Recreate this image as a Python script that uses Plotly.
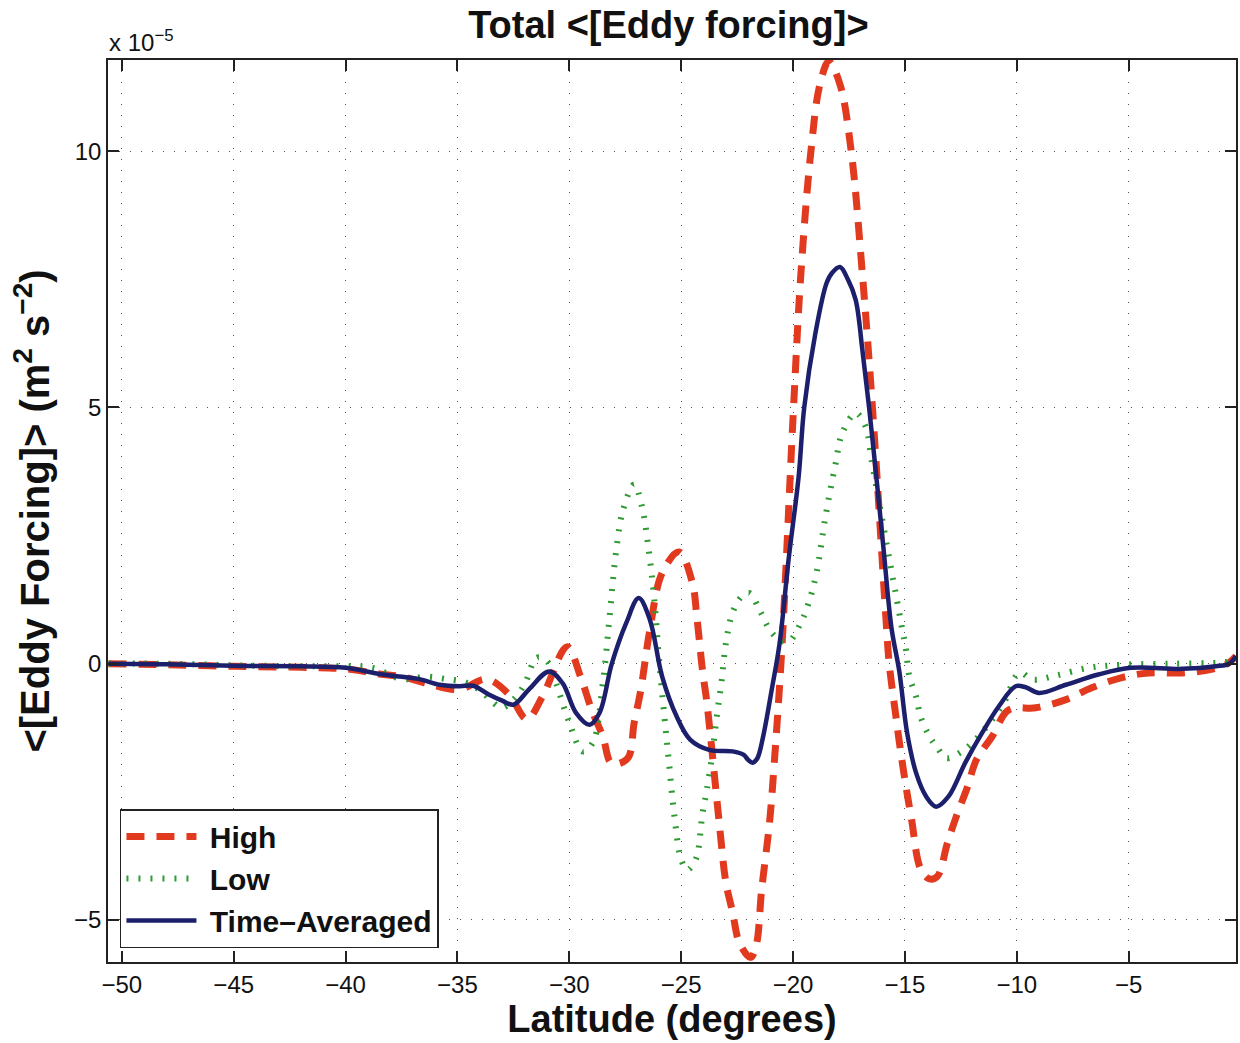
import plotly.graph_objects as go

# Values in units of 1e-5 m^2 s^-2
lat_high = [-50.6, -48, -45, -42, -40, -38.5, -37.5, -36.25, -34.9, -33.7, -32.7, -31.9, -31.2, -30.1, -29.5,
            -29.0, -28.5, -28.1, -27.4, -27.1, -26.8, -26.4, -25.85, -25.1, -24.5, -24.3, -24.05, -23.85, -23.6,
            -23.3, -23.0, -22.7, -22.4, -21.9, -21.65, -21.4, -21.05, -20.85, -20.5, -20.0, -19.65, -19.2, -18.8,
            -18.4, -17.9, -17.4, -16.9, -16.45, -15.85, -15.7, -15.4, -15.2, -14.95, -14.7, -14.3, -13.9, -13.55,
            -13.1, -12.7, -12.2, -11.8, -11.1, -10.35, -9.15, -7.8, -6.65, -5.3, -4.1, -2.6, -1.4, -0.65, -0.2]
high = [0.0, -0.02, -0.05, -0.07, -0.1, -0.2, -0.25, -0.4, -0.5, -0.3, -0.6, -1.08, -0.64, 0.33, -0.25,
        -0.9, -1.42, -1.95, -1.85, -1.15, -0.5, 0.66, 1.77, 2.18, 1.58, 0.92, -0.12, -0.76, -1.8,
        -3.1, -4.27, -4.85, -5.44, -5.73, -5.5, -4.4, -3.1, -2.0, 0.3, 4.8, 7.6, 10.0, 11.3,
        11.75, 11.3, 10.0, 7.6, 5.0, 0.9, 0.0, -1.03, -1.68, -2.4, -3.04, -4.0, -4.2, -4.15,
        -3.5, -2.98, -2.4, -1.87, -1.42, -0.9, -0.86, -0.7, -0.47, -0.27, -0.18, -0.18, -0.12, -0.02, 0.15]

lat_low = [-50.6, -48, -45, -42, -40, -38.8, -37.45, -36.4, -35.5, -34.6, -33.9, -33.4, -33.0, -32.5, -32.0,
           -31.45, -31.0, -30.6, -30.0, -29.4, -28.95, -28.5, -28.2, -27.9, -27.6, -27.1, -26.75, -26.45, -26.2,
           -26.0, -25.75, -25.55, -25.3, -25.0, -24.73, -24.35, -24.05, -23.85, -23.62, -23.4, -23.2, -23.0,
           -22.7, -22.3, -21.95, -21.5, -21.0, -20.6, -20.2, -19.65, -19.3, -18.95, -18.55, -18.1, -17.8, -17.2,
           -16.75, -16.5, -16.15, -15.85, -15.55, -15.15, -14.95, -14.8, -14.5, -14.3, -13.9, -13.55, -13.15,
           -12.45, -11.85, -11.1, -10.5, -10.05, -9.8, -9.3, -8.25, -6.8, -5.3, -3.0, -1.0, -0.5, -0.2]
low = [0.0, 0.0, -0.03, -0.05, -0.05, -0.08, -0.3, -0.25, -0.3, -0.37, -0.55, -0.76, -0.86, -0.7, -0.4,
       0.12, 0.05, -0.37, -1.15, -1.71, -1.54, -0.37, 0.92, 2.22, 3.0, 3.5, 3.06, 2.22, 1.25,
       0.14, -1.03, -1.9, -2.98, -3.82, -4.02, -3.82, -2.94, -2.45, -1.8, -1.0, -0.37, 0.4,
       1.0, 1.31, 1.38, 1.05, 0.63, 0.47, 0.43, 0.8, 1.19, 1.77, 2.87, 3.9, 4.5, 4.89,
       4.62, 4.0, 3.14, 2.42, 1.7, 0.75, 0.27, -0.25, -0.64, -1.03, -1.42, -1.64, -1.84,
       -1.71, -1.48, -1.09, -0.7, -0.25, -0.18, -0.31, -0.23, -0.08, -0.02, 0.0, 0.02, 0.05, 0.12]

lat_avg = [-50.6, -48, -45, -42, -40, -38.5, -37.6, -36.7, -35.8, -34.9, -34.3, -33.6, -33.0, -32.5, -31.8,
           -30.9, -30.3, -29.7, -29.1, -28.65, -28.1, -27.45, -26.9, -26.4, -25.85, -25.2, -24.6, -23.75, -22.7,
           -22.2, -22.0, -21.8, -21.6, -21.35, -20.95, -20.6, -20.2, -19.75, -19.5, -19.0, -18.5, -18.25, -17.9,
           -17.55, -17.2, -16.9, -16.6, -16.25, -15.95, -15.6, -15.25, -14.9, -14.5, -14.05, -13.6, -13.05,
           -12.3, -11.55, -10.8, -10.05, -9.6, -9.0, -7.8, -6.35, -4.9, -2.6, -1.1, -0.5, -0.2]
avg = [0.0, -0.01, -0.04, -0.05, -0.08, -0.2, -0.25, -0.3, -0.41, -0.44, -0.43, -0.6, -0.72, -0.8, -0.5,
       -0.15, -0.38, -0.96, -1.19, -0.96, 0.0, 0.8, 1.28, 0.86, -0.25, -1.03, -1.48, -1.68, -1.71,
       -1.78, -1.88, -1.93, -1.85, -1.45, -0.5, 0.4, 2.03, 3.65, 5.0, 6.45, 7.43, 7.63, 7.74,
       7.5, 7.1, 6.12, 5.0, 3.53, 2.22, 0.7, -0.15, -1.35, -2.13, -2.59, -2.79, -2.59,
       -1.93, -1.35, -0.83, -0.44, -0.46, -0.57, -0.41, -0.21, -0.08, -0.1, -0.05, 0.0, 0.15]

series_names = ["High", "Low", "Time\u2013Averaged"]

x_ticks = [-50, -45, -40, -35, -30, -25, -20, -15, -10, -5]
x_ticktext = ["\u221250", "\u221245", "\u221240", "\u221235", "\u221230", "\u221225", "\u221220",
              "\u221215", "\u221210", "\u22125"]
y_ticks = [-5, 0, 5, 10]
y_ticktext = ["\u22125", "0", "5", "10"]

FONT = "Liberation Sans, Arial, Helvetica, sans-serif"

fig = go.Figure()
fig.add_trace(go.Scatter(x=lat_high, y=high, mode="lines", name="\u00a0" + series_names[0],
                         line=dict(color="#e23a1f", width=7, dash="18px,12px", shape="spline", smoothing=1.0)))
fig.add_trace(go.Scatter(x=lat_low, y=low, mode="lines", name="\u00a0" + series_names[1],
                         line=dict(color="#2e9a32", width=6, dash="2px,10px", shape="spline", smoothing=1.0)))
fig.add_trace(go.Scatter(x=lat_avg, y=avg, mode="lines", name="\u00a0" + series_names[2],
                         line=dict(color="#1c1f6b", width=4.5, shape="spline", smoothing=1.0)))

axis_common = dict(
    showline=True, linecolor="#222", linewidth=1.5, mirror="ticks",
    ticks="inside", ticklen=11, tickwidth=1.5, tickcolor="#222",
    showgrid=True, gridcolor="#555", gridwidth=1, griddash="1px,10px",
    zeroline=False,
    tickfont=dict(family=FONT, size=24, color="#111"),
)

fig.update_layout(
    width=1240, height=1043,
    margin=dict(l=108, r=2, t=60, b=81),
    paper_bgcolor="white", plot_bgcolor="white",
    title=dict(text="Total &lt;[Eddy forcing]&gt;", x=0.539, xanchor="center", y=0.976, yanchor="middle",
               font=dict(family=FONT, size=38, color="#111", weight="bold")),
    xaxis=dict(range=[-50.62, -0.2], tickvals=x_ticks, ticktext=x_ticktext,
               title=dict(text="Latitude (degrees)", standoff=4,
                          font=dict(family=FONT, size=38, color="#111", weight="bold")),
               **axis_common),
    yaxis=dict(range=[-5.82, 11.78], tickvals=y_ticks, ticktext=y_ticktext,
               title=dict(text="&lt;[Eddy Forcing]&gt; (m<sup>2</sup> s<sup>\u22122</sup>)", standoff=12,
                          font=dict(family=FONT, size=40, color="#111", weight="bold")),
               **axis_common),
    legend=dict(x=0.0106, y=0.0155, xanchor="left", yanchor="bottom",
                bgcolor="white", bordercolor="#222", borderwidth=1.5,
                font=dict(family=FONT, size=30, color="#111", weight="bold"),
                itemwidth=70, tracegroupgap=0),
    showlegend=True,
    annotations=[dict(text="x 10<sup>\u22125</sup>", xref="paper", yref="paper", x=-0.001, y=1.0,
                      xanchor="left", yanchor="bottom", yshift=2, showarrow=False,
                      font=dict(family=FONT, size=24, color="#111"))],
)

fig.write_html("out.html")
